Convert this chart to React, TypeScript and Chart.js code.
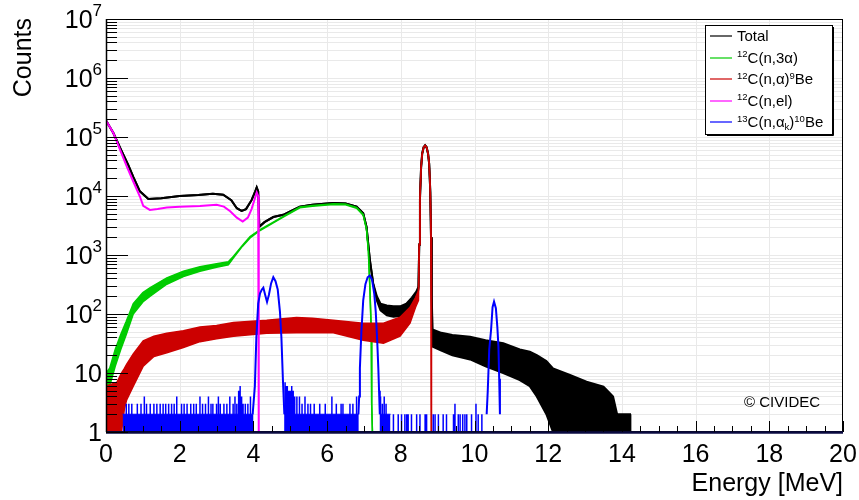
import React, { useEffect, useRef } from 'react';
import { Chart, registerables } from 'chart.js';

Chart.register(...registerables);

// ---------------- data ----------------
const xTickValues = [0, 2, 4, 6, 8, 10, 12, 14, 16, 18, 20];
const xTickLabels = ['0', '2', '4', '6', '8', '10', '12', '14', '16', '18', '20'];
const yDecadeExponents = [0, 1, 2, 3, 4, 5, 6, 7];
const xAxisTitle = 'Energy [MeV]';
const yAxisTitle = 'Counts';
const watermark = '\u00A9 CIVIDEC';

// Total (black): upper / lower edge of the noisy band
const totalX = [0, 0.2, 0.4, 0.6, 0.74, 0.92, 1.15, 1.5, 2.0, 2.5, 2.9, 3.18, 3.4, 3.55, 3.68, 3.8, 3.95, 4.05, 4.09, 4.13, 4.16, 4.3, 4.54, 4.81, 5.0, 5.26, 5.6, 6.17, 6.5, 6.8, 6.98, 7.07, 7.16, 7.25, 7.35, 7.45, 7.62, 7.8, 7.98, 8.15, 8.3, 8.42, 8.48, 8.5, 8.52, 8.55, 8.58, 8.62, 8.66, 8.7, 8.74, 8.77, 8.8, 8.82, 8.84, 8.86, 9.1, 9.4, 9.88, 10.3, 10.78, 11.23, 11.5, 11.69, 11.95, 12.13, 12.59, 13.04, 13.5, 13.76, 13.87, 14.22, 14.23];
const totalHi = [1.9e5, 1.17e5, 6.2e4, 3.4e4, 2.1e4, 1.2e4, 8.9e3, 9.2e3, 1.0e4, 1.04e4, 1.09e4, 1.05e4, 8.5e3, 6.2e3, 5.6e3, 6.0e3, 8.5e3, 1.2e4, 1.4e4, 1.2e4, 3.0e3, 3.6e3, 4.4e3, 4.8e3, 5.5e3, 6.6e3, 7.1e3, 7.6e3, 7.5e3, 6.6e3, 5.1e3, 3.0e3, 830, 330, 200, 150, 140, 135, 135, 150, 190, 240, 290, 1.5e3, 9e3, 3e4, 5.2e4, 6.7e4, 7.2e4, 6.7e4, 5.2e4, 3.5e4, 1.2e4, 2.0e3, 200, 55, 48, 44, 41, 36, 32, 25, 23, 20, 16, 12, 9.3, 7.1, 5.9, 4, 2, 2, 1];
const totalLo = [1.9e5, 1.17e5, 6.2e4, 3.4e4, 2.1e4, 1.2e4, 8.9e3, 9.2e3, 1.0e4, 1.04e4, 1.09e4, 1.05e4, 8.5e3, 6.2e3, 5.6e3, 6.0e3, 8.5e3, 1.2e4, 1.4e4, 1.2e4, 3.0e3, 3.6e3, 4.4e3, 4.8e3, 5.5e3, 6.6e3, 7.1e3, 7.6e3, 7.5e3, 6.6e3, 5.1e3, 3.0e3, 830, 330, 170, 115, 95, 90, 92, 110, 140, 200, 270, 1.5e3, 9e3, 3e4, 5.2e4, 6.7e4, 7.2e4, 6.7e4, 5.2e4, 3.5e4, 1.2e4, 2.0e3, 200, 28, 24, 20, 17, 13, 10, 7.6, 6, 4, 2, 1, 1, 1, 1, 1, 1, 1, 1];

// 12C(n,3alpha) (green)
const greenX = [0, 0.1, 0.25, 0.4, 0.55, 0.74, 1.0, 1.2, 1.65, 2.1, 2.55, 3.0, 3.32, 3.46, 3.7, 3.91, 4.18, 4.54, 4.81, 5.26, 5.6, 6.17, 6.5, 6.8, 6.98, 7.07, 7.12, 7.16, 7.2, 7.21, 7.23];
const greenHi = [10, 12, 25, 45, 75, 150, 230, 280, 410, 530, 630, 710, 770, 950, 1.45e3, 2.05e3, 2.7e3, 3.6e3, 4.5e3, 6.5e3, 6.9e3, 7.4e3, 7.3e3, 6.4e3, 4.9e3, 2.8e3, 1.2e3, 300, 50, 3, 1];
const greenLo = [4, 6, 13, 25, 45, 100, 160, 200, 320, 430, 530, 620, 680, 900, 1.4e3, 1.95e3, 2.6e3, 3.5e3, 4.4e3, 6.3e3, 6.7e3, 7.2e3, 7.1e3, 6.2e3, 4.7e3, 2.7e3, 1.15e3, 280, 45, 3, 1];

// 12C(n,alpha)9Be (red)
const redX = [0, 0.3, 0.42, 0.5, 0.56, 0.74, 1.01, 1.3, 1.65, 2.1, 2.55, 3.0, 3.46, 4.36, 5.17, 5.6, 6.17, 6.98, 7.53, 7.98, 8.25, 8.4, 8.48, 8.5, 8.52, 8.55, 8.58, 8.62, 8.66, 8.7, 8.74, 8.77, 8.8, 8.82, 8.83];
const redHi = [6, 7, 10, 12, 14, 21, 35, 42, 47, 52, 60, 64, 72, 78, 87, 85, 78, 70, 70, 88, 130, 190, 250, 1.5e3, 9e3, 3e4, 5.2e4, 6.7e4, 7.2e4, 6.7e4, 5.2e4, 3.5e4, 1.2e4, 2.0e3, 1];
const redLo = [1, 1, 1, 2.5, 3.5, 6, 13, 19, 22, 27, 34, 38, 42, 47, 48, 48, 48, 36, 32, 42, 70, 130, 170, 1.5e3, 9e3, 3e4, 5.2e4, 6.7e4, 7.2e4, 6.7e4, 5.2e4, 3.5e4, 1.2e4, 2.0e3, 1];

// 12C(n,el) (magenta)
const elX = [0, 0.2, 0.38, 0.56, 0.74, 0.92, 1.01, 1.19, 1.4, 1.65, 2.0, 2.55, 3.0, 3.2, 3.37, 3.55, 3.71, 3.85, 3.95, 4.05, 4.09, 4.13, 4.14, 4.15];
const elY = [1.9e5, 1.17e5, 6.1e4, 3.2e4, 1.76e4, 9.8e3, 6.8e3, 5.8e3, 6.0e3, 6.4e3, 6.6e3, 6.8e3, 7.1e3, 6.6e3, 5.5e3, 4.3e3, 3.7e3, 4.3e3, 6.0e3, 9.5e3, 1.15e4, 1.0e4, 8.0e3, 1];

// 13C(n,alpha_k)10Be (blue): peaks
const bluePeak1X = [3.98, 4.04, 4.08, 4.13, 4.18, 4.23, 4.27, 4.32, 4.37, 4.42, 4.48, 4.54, 4.6, 4.66, 4.72, 4.76, 4.8, 4.84];
const bluePeak1Y = [2, 6, 40, 150, 225, 260, 280, 210, 160, 210, 330, 420, 360, 260, 110, 40, 8, 2];
const bluePeak2X = [6.85, 6.87, 6.89, 6.93, 6.98, 7.04, 7.1, 7.16, 7.22, 7.28, 7.32, 7.36, 7.39, 7.41, 7.43];
const bluePeak2Y = [2, 4, 12, 50, 170, 320, 420, 450, 380, 220, 110, 35, 12, 5, 2];
const bluePeak3X = [10.33, 10.36, 10.4, 10.45, 10.49, 10.53, 10.58, 10.62, 10.65, 10.67, 10.69];
const bluePeak3Y = [2, 5, 25, 54, 130, 162, 125, 60, 28, 8, 2];
// blue low-count floor (level 2) ranges
const blueFloorStart = [0.45, 4.84, 7.43];
const blueFloorEnd = [4.0, 6.86, 7.72];
const blueFloorLevel = 2;
// blue single-bin spikes, by region
const blueSpikeAX = [0.55, 0.62, 0.7, 0.85, 0.95, 1.04, 1.1, 1.2, 1.3, 1.38, 1.47, 1.55, 1.62, 1.7, 1.78, 1.85, 1.92, 2.05, 2.12, 2.2, 2.3, 2.38, 2.45, 2.55, 2.62, 2.7, 2.78, 2.85, 2.9, 3.0, 3.05, 3.1, 3.2, 3.28, 3.36, 3.45, 3.5, 3.55, 3.6, 3.64, 3.68, 3.72, 3.78, 3.85, 3.92];
const blueSpikeAY = [3, 3, 3, 3, 3, 4, 3, 3, 3, 3, 3, 3, 3, 3, 3, 3, 4, 3, 3, 3, 3, 3, 3, 4, 3, 3, 4, 3, 3, 3, 4, 3, 3, 3, 4, 3, 4, 3, 5, 6, 4, 3, 3, 3, 4];
const blueSpikeBX = [4.86, 4.89, 4.92, 4.96, 5.0, 5.04, 5.08, 5.12, 5.18, 5.25, 5.32, 5.4, 5.48, 5.55, 5.65, 5.8, 5.95, 6.13, 6.25, 6.38, 6.43, 6.62, 6.7, 6.8];
const blueSpikeBY = [7, 6, 6, 5, 5, 6, 5, 4, 4, 4, 3, 4, 3, 3, 3, 3, 3, 4, 3, 3, 3, 3, 3, 4];
const blueSpikeCX = [7.45, 7.5, 7.55, 7.6];
const blueSpikeCY = [4, 3, 4, 3];
const blueSpikeDX = [7.8, 7.93, 8.02, 8.11, 8.16, 8.2, 8.29, 8.43, 8.52, 8.66, 8.7, 8.88, 8.93, 9.02, 9.15, 9.24, 9.43, 9.47, 9.56, 9.61, 9.68, 9.74, 9.79, 9.92, 10.04, 10.1, 10.2];
const blueSpikeDY = [2, 2, 2, 2, 2, 2, 2, 2, 2, 2, 2, 2, 2, 2, 2, 2, 2, 3, 2, 2, 2, 2, 2, 2, 3, 2, 2];

// legend
const legendColors = ['#000000', '#00cc00', '#cc0000', '#ff00ff', '#0000ff'];
const legendLabels: Array<Array<[string, string]>> = [
  [['Total', 'n']],
  [['12', 'sup'], ['C(n,3\u03B1)', 'n']],
  [['12', 'sup'], ['C(n,\u03B1)', 'n'], ['9', 'sup'], ['Be', 'n']],
  [['12', 'sup'], ['C(n,el)', 'n']],
  [['13', 'sup'], ['C(n,\u03B1', 'n'], ['k', 'sub'], [')', 'n'], ['10', 'sup'], ['Be', 'n']],
];

// ---------------- helpers ----------------
const FONT = '"Liberation Sans", Arial, Helvetica, sans-serif';
const pts = (xs: number[], ys: number[]) => xs.map((x, i) => ({ x, y: ys[i] }));
const joinWithGaps = (parts: Array<[number[], number[]]>) => {
  const out: any[] = [];
  parts.forEach(([xs, ys], k) => {
    if (k > 0) out.push({ x: xs[0], y: null });
    out.push(...pts(xs, ys));
  });
  return out;
};
const floorPoints = () => {
  const out: any[] = [];
  blueFloorStart.forEach((a, i) => {
    out.push({ x: a, y: blueFloorLevel }, { x: blueFloorEnd[i], y: blueFloorLevel }, { x: blueFloorEnd[i], y: null });
  });
  return out;
};
const spikePoints = () => {
  const out: any[] = [];
  const groups: Array<[number[], number[]]> = [
    [blueSpikeAX, blueSpikeAY],
    [blueSpikeBX, blueSpikeBY],
    [blueSpikeCX, blueSpikeCY],
    [blueSpikeDX, blueSpikeDY],
  ];
  groups.forEach(([xs, ys]) => {
    xs.forEach((x, i) => {
      out.push({ x, y: 1 }, { x, y: ys[i] }, { x, y: null });
    });
  });
  return out;
};

function drawGrid(chart: any) {
  const { ctx, chartArea: a, scales } = chart;
  const xs = scales.x, ys = scales.y;
  ctx.save();
  ctx.strokeStyle = '#e9e9e9';
  ctx.lineWidth = 1;
  ctx.beginPath();
  xTickValues.forEach((v) => {
    if (v <= 0 || v >= 20) return;
    const px = Math.round(xs.getPixelForValue(v)) + 0.5;
    ctx.moveTo(px, a.top);
    ctx.lineTo(px, a.bottom);
  });
  yDecadeExponents.forEach((e) => {
    if (e >= 7) return;
    for (let m = 1; m <= 9; m++) {
      const v = m * Math.pow(10, e);
      if (v <= 1) continue;
      const py = Math.round(ys.getPixelForValue(v)) + 0.5;
      ctx.moveTo(a.left, py);
      ctx.lineTo(a.right, py);
    }
  });
  ctx.stroke();
  ctx.restore();
}

function drawAxes(chart: any) {
  const { ctx, chartArea: a, scales } = chart;
  const xs = scales.x, ys = scales.y;
  ctx.save();
  // frame
  ctx.strokeStyle = '#000';
  ctx.lineWidth = 1;
  ctx.strokeRect(a.left + 0.5, a.top + 0.5, a.right - a.left - 1, a.bottom - a.top - 1);
  ctx.beginPath();
  ctx.moveTo(a.left + 0.5, a.top);
  ctx.lineTo(a.left + 0.5, a.bottom);
  ctx.lineWidth = 1.5;
  ctx.stroke();
  // bottom axis line
  ctx.beginPath();
  ctx.strokeStyle = '#0a0a40';
  ctx.lineWidth = 2.5;
  ctx.moveTo(a.left, a.bottom + 0.5);
  ctx.lineTo(a.right, a.bottom + 0.5);
  ctx.stroke();

  // y ticks
  ctx.strokeStyle = '#000';
  ctx.lineWidth = 1;
  ctx.beginPath();
  yDecadeExponents.forEach((e) => {
    const py = Math.round(ys.getPixelForValue(Math.pow(10, e))) + 0.5;
    ctx.moveTo(a.left, py);
    ctx.lineTo(a.left + 22, py);
    if (e < 7) {
      for (let m = 2; m <= 9; m++) {
        const q = Math.round(ys.getPixelForValue(m * Math.pow(10, e))) + 0.5;
        ctx.moveTo(a.left, q);
        ctx.lineTo(a.left + 11, q);
      }
    }
  });
  // x ticks
  for (let v = 0; v <= 20.001; v += 0.5) {
    const px = Math.round(xs.getPixelForValue(v)) + 0.5;
    const len = Math.abs(v / 2 - Math.round(v / 2)) < 1e-6 ? 11 : 6;
    ctx.moveTo(px, a.bottom);
    ctx.lineTo(px, a.bottom - len);
  }
  ctx.stroke();

  // x labels
  ctx.fillStyle = '#000';
  ctx.font = `25px ${FONT}`;
  ctx.textAlign = 'center';
  ctx.textBaseline = 'alphabetic';
  xTickValues.forEach((v, i) => {
    ctx.fillText(xTickLabels[i], xs.getPixelForValue(v), 462);
  });

  // y labels
  ctx.textAlign = 'left';
  yDecadeExponents.forEach((e) => {
    const py = ys.getPixelForValue(Math.pow(10, e));
    const main = e === 0 ? '1' : '10';
    const sup = e >= 2 ? String(e) : '';
    ctx.font = `25px ${FONT}`;
    const wm = ctx.measureText(main).width;
    ctx.font = `17px ${FONT}`;
    const ws = sup ? ctx.measureText(sup).width : 0;
    const x0 = 102 - wm - ws;
    ctx.font = `25px ${FONT}`;
    ctx.fillText(main, x0, py + 9);
    if (sup) {
      ctx.font = `17px ${FONT}`;
      ctx.fillText(sup, x0 + wm, py - 3);
    }
  });

  // axis titles
  ctx.font = `25px ${FONT}`;
  ctx.textAlign = 'right';
  ctx.fillText(xAxisTitle, a.right, 491);
  ctx.save();
  ctx.translate(31, a.top - 1);
  ctx.rotate(-Math.PI / 2);
  ctx.textAlign = 'right';
  ctx.fillText(yAxisTitle, 0, 0);
  ctx.restore();

  // watermark
  ctx.font = `15px ${FONT}`;
  ctx.textAlign = 'left';
  ctx.fillText(watermark, 744, 407);
  ctx.restore();
}

function drawLegend(chart: any) {
  const { ctx } = chart;
  ctx.save();
  const bx = 705, by = 25, bw = 128, bh = 110;
  ctx.fillStyle = '#fff';
  ctx.fillRect(bx, by, bw, bh);
  ctx.strokeStyle = '#000';
  ctx.lineWidth = 1;
  ctx.strokeRect(bx + 0.5, by + 0.5, bw - 1, bh - 1);
  ctx.beginPath();
  ctx.moveTo(bx + bw + 0.5, by + 2);
  ctx.lineTo(bx + bw + 0.5, by + bh + 0.5);
  ctx.lineTo(bx + 2, by + bh + 0.5);
  ctx.stroke();
  ctx.textAlign = 'left';
  ctx.textBaseline = 'alphabetic';
  legendLabels.forEach((segs, i) => {
    const cy = 36 + i * 21.5;
    ctx.strokeStyle = legendColors[i];
    ctx.lineWidth = 1.2;
    ctx.beginPath();
    ctx.moveTo(710, Math.round(cy));
    ctx.lineTo(732, Math.round(cy));
    ctx.stroke();
    ctx.fillStyle = '#000';
    let cx = 737;
    const base = cy + 5;
    segs.forEach(([t, kind]) => {
      const size = kind === 'n' ? 15 : 9.5;
      ctx.font = `${size}px ${FONT}`;
      const dy = kind === 'sup' ? -5.5 : kind === 'sub' ? 3 : 0;
      ctx.fillText(t, cx, base + dy);
      cx += ctx.measureText(t).width;
    });
  });
  ctx.restore();
}

const rootStyle = {
  id: 'rootStyle',
  beforeDatasetsDraw(chart: any) {
    drawGrid(chart);
  },
  afterDatasetsDraw(chart: any) {
    drawAxes(chart);
    drawLegend(chart);
  },
};

export default function App() {
  const ref = useRef<HTMLCanvasElement>(null);
  useEffect(() => {
    if (!ref.current) return;
    const line = (data: any[], color: string, width: number, extra: any = {}) => ({
      data,
      borderColor: color,
      backgroundColor: color,
      borderWidth: width,
      pointRadius: 0,
      tension: 0,
      fill: false,
      spanGaps: false,
      ...extra,
    });
    const chart = new Chart(ref.current, {
      type: 'line',
      data: {
        datasets: [
          line(spikePoints(), '#0000ff', 1.5),
          line(floorPoints(), '#0000ff', 1, { fill: 'start' }),
          line(joinWithGaps([[bluePeak1X, bluePeak1Y], [bluePeak2X, bluePeak2Y], [bluePeak3X, bluePeak3Y]]), '#0000ff', 2),
          line(pts(elX, elY), '#ff00ff', 2),
          line(pts(redX, redLo), '#cc0000', 1.5),
          line(pts(redX, redHi), '#cc0000', 1.5, { fill: '-1' }),
          line(pts(greenX, greenLo), '#00cc00', 1.5),
          line(pts(greenX, greenHi), '#00cc00', 1.5, { fill: '-1' }),
          line(pts(totalX, totalLo), '#000000', 2),
          line(pts(totalX, totalHi), '#000000', 2, { fill: '-1' }),
        ],
      },
      options: {
        responsive: false,
        animation: false,
        devicePixelRatio: 1,
        events: [],
        normalized: false,
        layout: { padding: { left: 106, top: 19, right: 16, bottom: 68 } },
        scales: {
          x: { type: 'linear', min: 0, max: 20, display: false },
          y: { type: 'logarithmic', min: 1, max: 1e7, display: false },
        },
        plugins: {
          legend: { display: false },
          tooltip: { enabled: false },
        },
      },
      plugins: [rootStyle],
    } as any);
    return () => chart.destroy();
  }, []);
  return (
    <div style={{ position: 'absolute', left: 0, top: 0, width: 859, height: 500, background: '#fff' }}>
      <canvas ref={ref} width={859} height={500} style={{ width: 859, height: 500, display: 'block' }} />
    </div>
  );
}
